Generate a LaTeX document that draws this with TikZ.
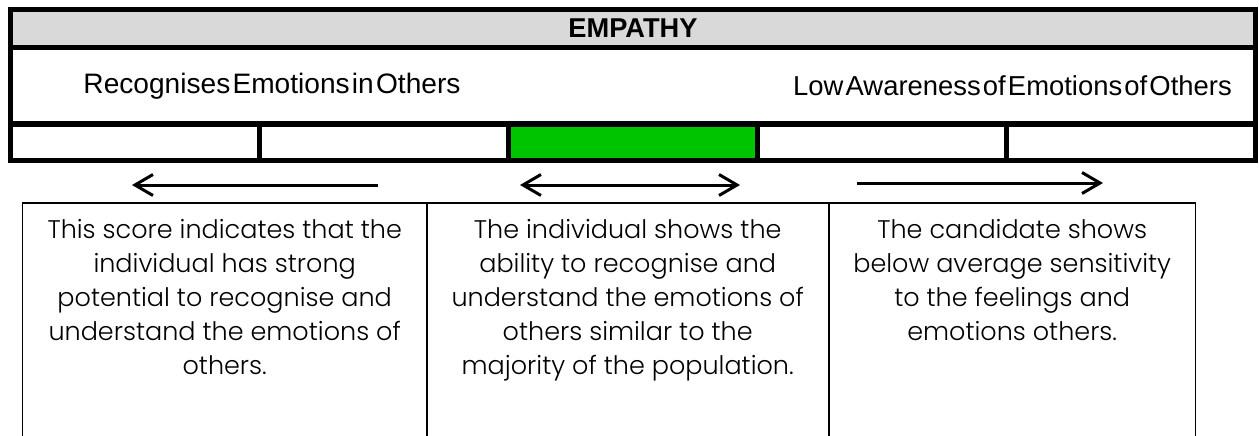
\documentclass[tikz,border=0pt]{standalone}
\usepackage{fontspec}
\setmainfont{Liberation Sans}
\newfontfamily\descfont{Poppins Light}
\usepackage{xcolor}
\usetikzlibrary{positioning,arrows.meta,calc}
\definecolor{headgray}{HTML}{D9D9D9}
\definecolor{scoregreen}{HTML}{00C400}
\newcommand\tightspace{\spaceskip=0.08em\relax}

\begin{document}
\begin{tikzpicture}[x=0.02cm, y=-0.02cm,
    header/.style={draw, fill=headgray, line width=0.1cm, minimum width=24.9cm, minimum height=0.76cm, inner sep=0pt, font=\bfseries\fontsize{15.5}{18}\selectfont},
    band/.style={draw, line width=0.1cm, minimum width=24.9cm, minimum height=1.53cm, inner sep=0pt},
    cell/.style={draw, line width=0.1cm, minimum width=4.98cm, minimum height=0.73cm, inner sep=0pt},
    scalelabel/.style={inner sep=0pt, font=\fontsize{16}{19}\selectfont\tightspace},
    descbox/.style={draw, line width=0.03cm, minimum height=5.2cm, anchor=north west, inner sep=0pt},
    desc/.style={align=center, inner sep=0pt, font=\descfont\fontsize{14.5}{19.4}\selectfont},
    arrow/.style={line width=0.06cm, >={Straight Barb[length=0.36cm, width=0.42cm]}}
]
    \useasboundingbox (0,0) rectangle (1259,436);

    % Title and scale ends
    \node[header] (title) at (633,28.5) {EMPATHY};
    \node[band] (ends) at (633,85.75) {};
    \node[scalelabel] (highlabel) at (272,86) {Recognises Emotions in Others};
    \node[scalelabel, font=\fontsize{15.6}{19}\selectfont\tightspace] (lowlabel) at (1012.5,86) {Low Awareness of Emotions of Others};

    % Score bands
    \node[cell] (bandA) at (135,142.25) {};
    \node[cell] (bandB) at (384,142.25) {};
    \node[cell, fill=scoregreen] (bandC) at (633,142.25) {};
    \node[cell] (bandD) at (882,142.25) {};
    \node[cell] (bandE) at (1131,142.25) {};

    % Arrows
    \coordinate (highstart) at (378,185);
    \coordinate (highend) at (132,185);
    \coordinate (midleft) at (520,185);
    \coordinate (midright) at (740,185);
    \coordinate (lowstart) at (857,183);
    \coordinate (lowend) at (1103,183);
    \draw[arrow,->] (highstart) -- (highend);
    \draw[arrow,<->] (midleft) -- (midright);
    \draw[arrow,->] (lowstart) -- (lowend);

    % Descriptions
    \node[descbox, minimum width=8.08cm] (highbox) at (22,202) {};
    \node[descbox, minimum width=8.04cm] (midbox) at (426,202) {};
    \node[descbox, minimum width=7.34cm] (lowbox) at (828,202) {};
    \node[desc, below=0.34cm of highbox.north] (hightext) {This score indicates that the\\individual has strong\\potential to recognise and\\understand the emotions of\\others.};
    \node[desc, below=0.34cm of midbox.north] (midtext) {The individual shows the\\ability to recognise and\\understand the emotions of\\others similar to the\\majority of the population.};
    \node[desc, below=0.34cm of lowbox.north] (lowtext) {The candidate shows\\below average sensitivity\\to the feelings and\\emotions others.};
\end{tikzpicture}
\end{document}
